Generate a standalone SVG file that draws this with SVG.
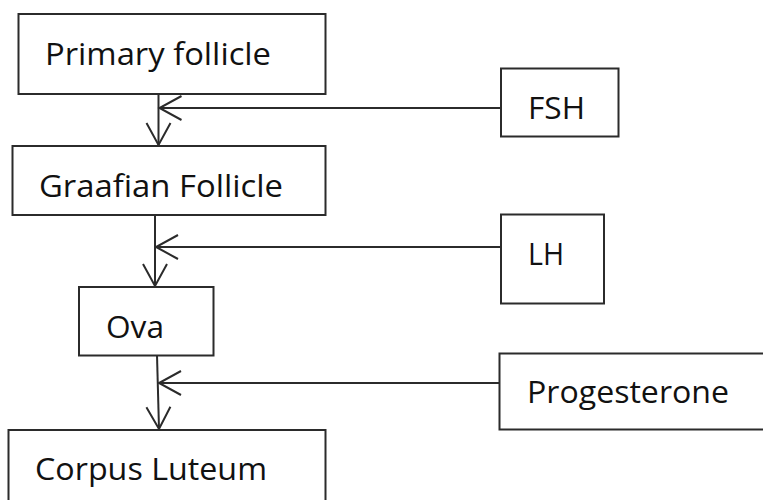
<svg xmlns="http://www.w3.org/2000/svg" width="763" height="500" viewBox="0 0 763 500">
  <defs>
    <style>
      .box { fill: #ffffff; stroke: #2b2b2b; stroke-width: 2; }
      .lbl { font-family: "Open Sans", "Noto Sans", "Liberation Sans", sans-serif; font-size: 31px; fill: #111111; }
      .conn { fill: none; stroke: #2b2b2b; stroke-width: 2; }
    </style>
    <marker id="open" viewBox="-26 -15 30 30" markerWidth="30" markerHeight="30" refX="0" refY="0" orient="auto" markerUnits="userSpaceOnUse">
      <path d="M -22 -12 L 0 0 L -22 12" fill="none" stroke="#2b2b2b" stroke-width="2"/>
    </marker>
  </defs>
  <rect width="763" height="500" fill="#ffffff"/>

  <g id="connectors">
    <line class="conn" x1="158.5" y1="94" x2="158.5" y2="145" marker-end="url(#open)"/>
    <line class="conn" x1="501" y1="108" x2="159.5" y2="108" marker-end="url(#open)"/>
    <line class="conn" x1="155" y1="215" x2="155" y2="286" marker-end="url(#open)"/>
    <line class="conn" x1="501" y1="247" x2="156" y2="247" marker-end="url(#open)"/>
    <line class="conn" x1="157" y1="355" x2="159" y2="429" marker-end="url(#open)"/>
    <line class="conn" x1="499" y1="383" x2="159" y2="383" marker-end="url(#open)"/>
  </g>

  <g id="primary-follicle">
    <rect class="box" x="18.5" y="14" width="307" height="80"/>
    <text class="lbl" x="45" y="65" textLength="226" lengthAdjust="spacingAndGlyphs">Primary follicle</text>
  </g>
  <g id="graafian-follicle">
    <rect class="box" x="12.5" y="146" width="313" height="69"/>
    <text class="lbl" x="39" y="197" textLength="244" lengthAdjust="spacingAndGlyphs">Graafian Follicle</text>
  </g>
  <g id="ova">
    <rect class="box" x="79" y="287" width="134.5" height="68.5"/>
    <text class="lbl" x="106" y="338" textLength="58" lengthAdjust="spacingAndGlyphs">Ova</text>
  </g>
  <g id="corpus-luteum">
    <rect class="box" x="8.5" y="430" width="317" height="80"/>
    <text class="lbl" x="35" y="480" textLength="232" lengthAdjust="spacingAndGlyphs">Corpus Luteum</text>
  </g>
  <g id="fsh">
    <rect class="box" x="501" y="68.5" width="117.5" height="68"/>
    <text class="lbl" x="528" y="119" textLength="57" lengthAdjust="spacingAndGlyphs">FSH</text>
  </g>
  <g id="lh">
    <rect class="box" x="501" y="214.5" width="103" height="89"/>
    <text class="lbl" x="528" y="265" textLength="36" lengthAdjust="spacingAndGlyphs">LH</text>
  </g>
  <g id="progesterone">
    <rect class="box" x="499.5" y="353.5" width="280" height="76"/>
    <text class="lbl" x="527" y="403" textLength="202" lengthAdjust="spacingAndGlyphs">Progesterone</text>
  </g>
</svg>
